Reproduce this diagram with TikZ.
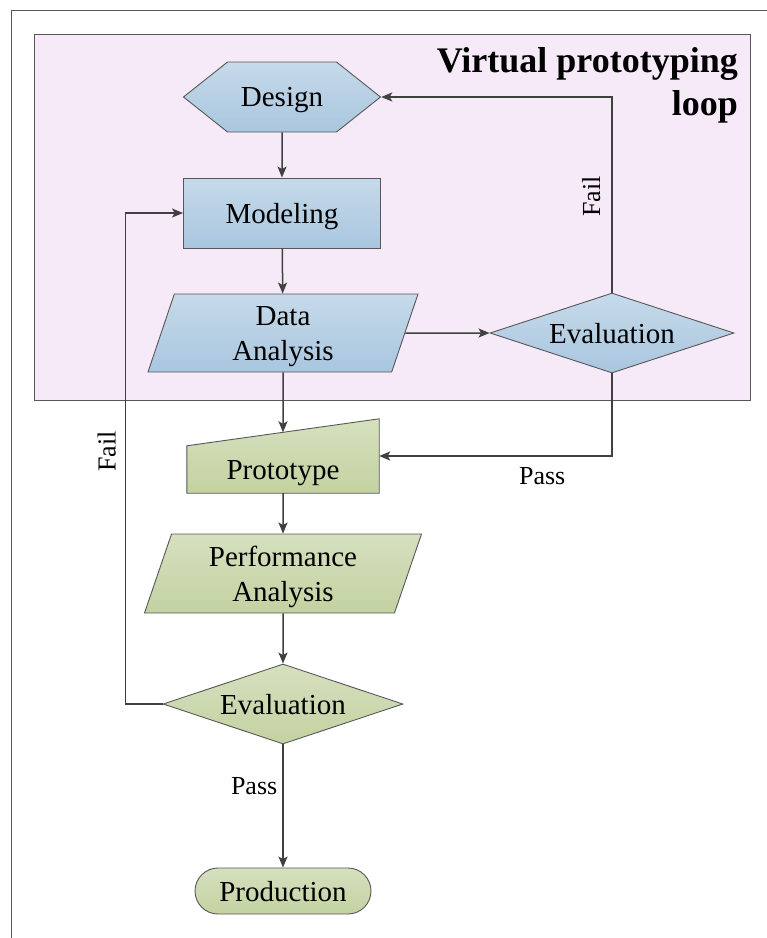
\documentclass[tikz,border=0pt]{standalone}
\usepackage{fontspec}
\setmainfont{Liberation Serif}
\usetikzlibrary{arrows.meta,calc,positioning,shapes.geometric,shapes.symbols,shapes.misc}
\definecolor{blueTop}{HTML}{C6DAEA}
\definecolor{blueBot}{HTML}{A9C6DF}
\definecolor{greenTop}{HTML}{D6E0BF}
\definecolor{greenBot}{HTML}{C3D2A1}
\definecolor{loopPink}{HTML}{F6E9F8}
\definecolor{edgeGray}{HTML}{575757}
\definecolor{arrowGray}{HTML}{404040}
\newcommand{\nodefont}{\fontsize{29}{35}\selectfont}
\newcommand{\lblfont}{\fontsize{26}{30}\selectfont}
\tikzset{
    >={Stealth[length=11pt, width=9pt, inset=2.5pt]},
    box/.style={
           draw=edgeGray, line width=0.9pt,
           inner sep=0pt,
           font=\nodefont,
           text depth=0pt,
           align=center,
           text centered},
    blu/.style={top color=blueTop, bottom color=blueBot},
    grn/.style={top color=greenTop, bottom color=greenBot},
    pil/.style={
           ->,
           draw=arrowGray,
           line width=1.5pt},
    lbl/.style={font=\lblfont, inner sep=3pt}
}

\begin{document}
\begin{tikzpicture}[x=1pt, y=1pt]
        \useasboundingbox (0,0) rectangle (767,-938);
        % frame and loop area
        \draw[edgeGray, line width=1pt] (11,-938) -- (11,-10) -- (767,-10);
        \draw[edgeGray, fill=loopPink, line width=0.9pt] (34,-34) rectangle (750,-400);
        \node[anchor=north east, inner sep=0pt, align=right,
              font=\fontsize{36}{43}\selectfont\bfseries] (title) at (738,-47)
              {Virtual prototyping\\loop};

        % virtual steps
        \node[box, blu, signal, signal to=west and east, signal pointer angle=77,
              minimum width=197pt, minimum height=70pt] (design) at (282,-97) {Design};
        \node[box, blu, rectangle, minimum width=197pt, minimum height=70pt]
              (model) at (282,-213) {Modeling};
        \node[box, blu, trapezium, trapezium left angle=64, trapezium right angle=116,
              trapezium stretches body, minimum width=270pt, minimum height=78pt]
              (data) at (283,-333) {Data\\Analysis};
        \node[box, blu, diamond, aspect=3, minimum width=244pt, minimum height=80pt]
              (evalA) at (612,-333) {Evaluation};

        % physical steps
        \node[font=\nodefont, inner sep=0pt, minimum width=192pt, minimum height=47pt]
              (proto) at (283,-469.5) {};
        \path[draw=edgeGray, line width=0.9pt, grn] (proto.south west) -- (proto.south east)
              -- ($(proto.north east)+(0,27)$) -- (proto.north west) -- cycle;
        \node[font=\nodefont, text depth=0pt, inner sep=0pt] at (proto) {Prototype};
        \coordinate (protoTop) at ($(proto.north west)!0.5!($(proto.north east)+(0,27)$)$);
        \node[box, grn, trapezium, trapezium left angle=64, trapezium right angle=116,
              trapezium stretches body, minimum width=277pt, minimum height=79pt]
              (perf) at (283,-573.5) {Performance\\Analysis};
        \node[box, grn, diamond, aspect=3, minimum width=240pt, minimum height=80pt]
              (evalB) at (283,-704) {Evaluation};
        \node[box, grn, rounded rectangle, minimum width=176pt, minimum height=46pt]
              (prod) at (283,-891) {Production};

        \draw[pil] (design) -- (model);
        \draw[pil] (model) -- (data);
        \draw[pil] (data.east) -- (evalA.west);
        \draw[pil] (evalA.north) |- (design.east)
              node[lbl, pos=0.245, xshift=-8pt, rotate=90, anchor=south] {Fail};
        \draw[pil] (data.south) -- (protoTop);
        \draw[pil] (evalA.south) |- ([yshift=13.5pt]proto.east)
              node[lbl, pos=0.65, below=8pt] {Pass};
        \draw[pil] (proto.south) -- (perf.north);
        \draw[pil] (perf.south) -- (evalB.north);
        \draw[pil] (evalB.west) -- ++(-37,0) |- (model.west)
              node[lbl, pos=0.257, xshift=-6pt, rotate=90, anchor=south] {Fail};
        \draw[pil] (evalB.south) -- (prod.north)
              node[lbl, pos=0.34, left=2pt] {Pass};
    \end{tikzpicture}
\end{document}
